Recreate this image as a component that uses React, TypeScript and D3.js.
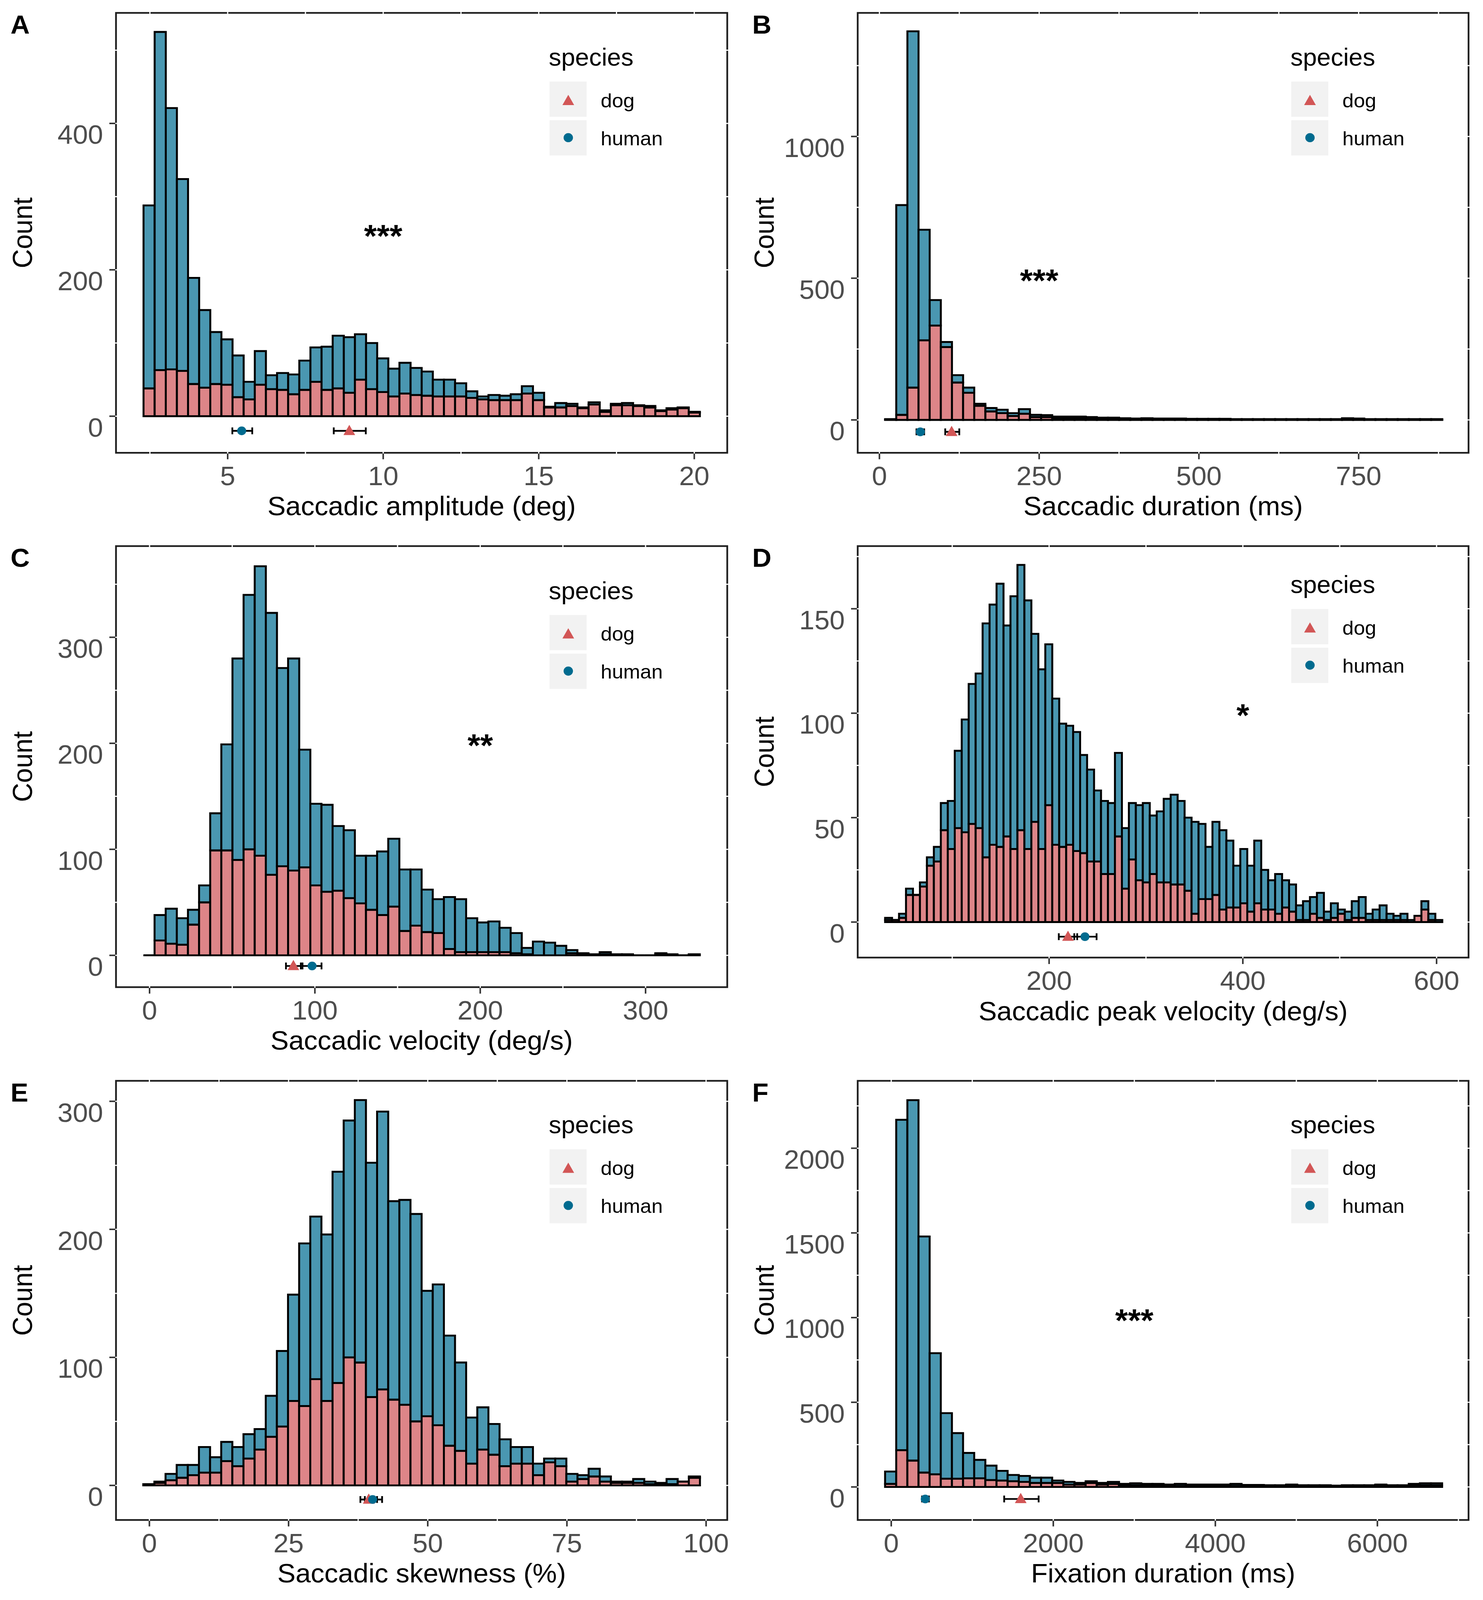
import * as d3 from "d3";

const W = 3797;
const H = 4219;
const FONT = "'Liberation Sans', Arial, Helvetica, sans-serif";
const DOG_FILL = "#dd8588";
const HUMAN_FILL = "#4a97b1";
const DOG_PT = "#d25656";
const HUMAN_PT = "#006b8f";

// A: saccadic amplitude (deg)
const ampStart = 2.295;
const ampWidth = 0.3577;
const ampAll = [288, 525, 421, 324, 189, 145, 115, 105, 83, 47, 89, 56, 59, 57, 76, 94, 95, 110, 108, 112, 100, 79, 65, 73, 66, 61, 50, 50, 45, 34, 27, 29, 28, 30, 41, 32, 13, 18, 17, 12, 19, 8, 17, 18, 15, 14, 8, 11, 12, 6];
const ampDog = [38, 63, 64, 62, 44, 39, 44, 43, 26, 23, 43, 37, 36, 30, 36, 47, 36, 38, 32, 50, 37, 33, 27, 31, 29, 28, 27, 27, 27, 25, 23, 22, 22, 22, 31, 22, 12, 12, 14, 11, 16, 6, 15, 15, 14, 12, 7, 9, 11, 5];

// B: saccadic duration (ms)
const durStart = 8.9;
const durWidth = 17.44;
const durAll = [3, 758, 1371, 671, 423, 275, 158, 114, 57, 42, 36, 24, 38, 18, 17, 12, 12, 12, 10, 8, 8, 6, 5, 6, 5, 5, 5, 4, 4, 4, 4, 3, 3, 3, 3, 3, 3, 3, 3, 3, 3, 6, 5, 3, 3, 3, 3, 3, 3, 3];
const durDog = [1, 18, 114, 281, 333, 257, 132, 96, 50, 30, 24, 14, 22, 10, 10, 6, 6, 6, 5, 4, 4, 3, 3, 3, 2, 2, 2, 2, 2, 2, 2, 1, 1, 1, 1, 1, 1, 1, 1, 1, 1, 3, 2, 1, 1, 1, 1, 1, 1, 1];

// C: saccadic velocity (deg/s)
const velStart = -3.7;
const velWidth = 6.73;
const velAll = [0, 38, 44, 35, 43, 66, 134, 199, 280, 340, 367, 323, 271, 280, 194, 143, 142, 122, 118, 94, 94, 98, 110, 81, 81, 62, 53, 55, 53, 35, 31, 32, 26, 21, 7, 13, 12, 9, 5, 2, 1, 3, 1, 1, 0, 0, 2, 1, 0, 1];
const velDog = [0, 14, 11, 10, 29, 50, 99, 99, 90, 100, 94, 76, 84, 80, 83, 66, 60, 61, 54, 49, 43, 38, 46, 23, 28, 22, 21, 6, 3, 3, 3, 3, 3, 2, 1, 0, 0, 0, 2, 1, 0, 1, 0, 0, 0, 0, 1, 0, 0, 0];

// D: saccadic peak velocity (deg/s)
const peakStart = 30.7;
const peakWidth = 7.19;
const peakAll = [2, 1, 4, 16, 13, 19, 31, 36, 57, 58, 82, 97, 114, 119, 143, 152, 162, 142, 156, 171, 154, 138, 121, 133, 107, 95, 94, 91, 80, 73, 63, 58, 57, 81, 45, 57, 56, 57, 51, 53, 59, 61, 58, 50, 48, 47, 36, 48, 44, 39, 27, 35, 27, 39, 25, 20, 23, 20, 18, 8, 10, 12, 14, 5, 9, 6, 5, 10, 12, 4, 6, 8, 4, 3, 4, 1, 3, 10, 4, 1];
const peakDog = [1, 1, 2, 13, 13, 17, 27, 29, 44, 35, 45, 43, 47, 45, 31, 37, 36, 41, 35, 44, 35, 48, 35, 56, 37, 36, 37, 34, 33, 29, 29, 23, 23, 41, 16, 30, 20, 19, 23, 19, 19, 18, 18, 15, 4, 11, 11, 13, 6, 7, 7, 9, 5, 9, 6, 6, 4, 7, 5, 1, 1, 4, 2, 1, 2, 4, 1, 2, 2, 1, 1, 1, 1, 1, 1, 0, 3, 6, 1, 0];

// E: saccadic skewness (%)
const skewStart = -1.1;
const skewWidth = 2.0;
const skewAll = [1, 3, 9, 16, 16, 30, 22, 34, 30, 40, 44, 70, 105, 149, 189, 210, 196, 245, 285, 301, 252, 292, 222, 223, 212, 152, 157, 117, 96, 53, 61, 48, 36, 30, 30, 17, 21, 21, 9, 8, 13, 7, 3, 3, 5, 3, 2, 5, 3, 7];
const skewDog = [1, 2, 4, 6, 8, 10, 10, 19, 15, 21, 28, 38, 46, 66, 62, 83, 66, 80, 100, 96, 69, 75, 67, 63, 50, 54, 47, 31, 27, 17, 28, 24, 15, 17, 17, 8, 18, 15, 3, 5, 7, 3, 2, 2, 2, 1, 1, 1, 3, 6];

// F: fixation duration (ms)
const fixStart = -76;
const fixWidth = 137.5;
const fixAll = [91, 2168, 2284, 1479, 790, 436, 318, 201, 160, 126, 95, 71, 65, 55, 55, 38, 30, 24, 34, 24, 30, 18, 22, 18, 18, 14, 18, 14, 14, 14, 14, 18, 12, 12, 10, 10, 14, 10, 10, 10, 8, 10, 10, 10, 14, 10, 10, 18, 22, 22];
const fixDog = [18, 217, 156, 85, 75, 49, 49, 51, 51, 41, 38, 34, 30, 24, 24, 24, 14, 14, 24, 14, 18, 10, 10, 8, 8, 6, 6, 6, 6, 6, 6, 6, 5, 5, 4, 4, 6, 4, 4, 4, 4, 4, 4, 4, 6, 4, 4, 8, 10, 10];

// means with error bars: [mean, low, high]
const dogMeans = [[8.91, 8.41, 9.44], [113, 103, 125], [87, 82.5, 91.5], [219.5, 210, 229], [39.4, 37.9, 40.9], [1598, 1394, 1819]];
const humanMeans = [[5.45, 5.15, 5.79], [64, 58, 70], [98.3, 92.5, 104], [237, 226, 249], [40.1, 38.7, 41.8], [420, 380, 465]];
const meanY = [-20, -42, -10, -7, -11, -71];

const letters = ["A", "B", "C", "D", "E", "F"];
const xTitles = [
  "Saccadic amplitude (deg)",
  "Saccadic duration (ms)",
  "Saccadic velocity (deg/s)",
  "Saccadic peak velocity (deg/s)",
  "Saccadic skewness (%)",
  "Fixation duration (ms)",
];
const xTickValues = [[5, 10, 15, 20], [0, 250, 500, 750], [0, 100, 200, 300], [200, 400, 600], [0, 25, 50, 75, 100], [0, 2000, 4000, 6000]];
const yTickValues = [[0, 200, 400], [0, 500, 1000], [0, 100, 200, 300], [0, 50, 100, 150], [0, 100, 200, 300], [0, 500, 1000, 1500, 2000]];
const xDomains = [[1.41, 21.06], [-34, 922], [-20.3, 349.4], [2.4, 633], [-6.0, 103.8], [-414, 7125]];
const yDomains = [[-50, 551], [-116, 1436], [-30, 386], [-17, 180], [-27, 316], [-195, 2398]];

const starLabels = ["***", "***", "**", "*", "", "***"];
const starX = [10, 250, 200, 400, 0, 3000];
const starY = [256, 517, 205, 102.5, 0, 1027];

type Box = { left: number; top: number; right: number; bottom: number };
const boxes: Box[] = [
  { left: 297, top: 34, right: 1862, bottom: 1194 },
  { left: 2196, top: 34, right: 3760, bottom: 1194 },
  { left: 297, top: 1440, right: 1862, bottom: 2603 },
  { left: 2196, top: 1440, right: 3760, bottom: 2525 },
  { left: 297, top: 2850, right: 1862, bottom: 4008 },
  { left: 2196, top: 2850, right: 3760, bottom: 4008 },
];

const bins = [
  { start: ampStart, width: ampWidth, all: ampAll, dog: ampDog },
  { start: durStart, width: durWidth, all: durAll, dog: durDog },
  { start: velStart, width: velWidth, all: velAll, dog: velDog },
  { start: peakStart, width: peakWidth, all: peakAll, dog: peakDog },
  { start: skewStart, width: skewWidth, all: skewAll, dog: skewDog },
  { start: fixStart, width: fixWidth, all: fixAll, dog: fixDog },
];

function gridValues(ticks: number[], domain: number[]) {
  const step = ticks[1] - ticks[0];
  return d3
    .range(ticks[0] - step, ticks[ticks.length - 1] + step * 1.01, step / 2)
    .filter((v) => v > domain[0] && v < domain[1]);
}

function rectPath(x0: number, x1: number, y0: number, y1: number) {
  return `M${x0},${y0}H${x1}V${y1}H${x0}Z`;
}

function triangle(cx: number, cy: number) {
  return `M${cx},${cy - 16}L${cx + 15},${cy + 11}L${cx - 15},${cy + 11}Z`;
}

function Panel({ i }: { i: number }) {
  const b = boxes[i];
  const bin = bins[i];
  const x = d3.scaleLinear().domain(xDomains[i]).range([b.left, b.right]);
  const y = d3.scaleLinear().domain(yDomains[i]).range([b.bottom, b.top]);
  const gx = gridValues(xTickValues[i], xDomains[i]);
  const gy = gridValues(yTickValues[i], yDomains[i]);
  const midY = (b.top + b.bottom) / 2;
  const keyTop = b.top + 0.2 * (b.bottom - b.top) - 51;
  const keyLeft = b.left + 1110;
  const starSize = 84;

  const errorBar = (m: number[], py: number, key: string) => (
    <g key={key} stroke="#000" strokeWidth={4.5}>
      <line x1={x(m[1])} x2={x(m[2])} y1={y(py)} y2={y(py)} />
      <line x1={x(m[1])} x2={x(m[1])} y1={y(py) - 9} y2={y(py) + 9} />
      <line x1={x(m[2])} x2={x(m[2])} y1={y(py) - 9} y2={y(py) + 9} />
    </g>
  );

  return (
    <g>
      {/* bars: dog at the bottom, human stacked on top */}
      <g stroke="#000" strokeWidth={5} strokeLinejoin="miter">
        {bin.all.map((tot, k) => {
          const x0 = x(bin.start + k * bin.width);
          const x1 = x(bin.start + (k + 1) * bin.width);
          return (
            <g key={k}>
              <path d={rectPath(x0, x1, y(0), y(bin.dog[k]))} fill={DOG_FILL} />
              <path d={rectPath(x0, x1, y(bin.dog[k]), y(tot))} fill={HUMAN_FILL} />
            </g>
          );
        })}
      </g>

      {errorBar(humanMeans[i], meanY[i], "he")}
      {errorBar(dogMeans[i], meanY[i], "de")}
      <path d={triangle(x(dogMeans[i][0]), y(meanY[i]))} fill={DOG_PT} />
      <circle cx={x(humanMeans[i][0])} cy={y(meanY[i])} r={11.5} fill={HUMAN_PT} />

      {starLabels[i] && (
        <text
          x={x(starX[i])}
          y={y(starY[i]) + 0.57 * starSize}
          textAnchor="middle"
          fontFamily={FONT}
          fontWeight="bold"
          fontSize={starSize}
          fill="#000"
        >
          {starLabels[i]}
        </text>
      )}

      {/* panel border with the white grid breaks */}
      <rect x={b.left} y={b.top} width={b.right - b.left} height={b.bottom - b.top} fill="none" stroke="#1f1f1f" strokeWidth={4.5} />
      <g stroke="#fff" strokeWidth={3}>
        {gx.map((v) => (
          <g key={"gx" + v}>
            <line x1={x(v)} x2={x(v)} y1={b.top - 4} y2={b.top + 4} />
            <line x1={x(v)} x2={x(v)} y1={b.bottom - 4} y2={b.bottom + 4} />
          </g>
        ))}
        {gy.map((v) => (
          <g key={"gy" + v}>
            <line x1={b.left - 4} x2={b.left + 4} y1={y(v)} y2={y(v)} />
            <line x1={b.right - 4} x2={b.right + 4} y1={y(v)} y2={y(v)} />
          </g>
        ))}
      </g>

      {/* axes */}
      <g stroke="#333" strokeWidth={4}>
        {xTickValues[i].map((v) => (
          <line key={"tx" + v} x1={x(v)} x2={x(v)} y1={b.bottom + 2} y2={b.bottom + 17} />
        ))}
        {yTickValues[i].map((v) => (
          <line key={"ty" + v} x1={b.left - 17} x2={b.left - 2} y1={y(v)} y2={y(v)} />
        ))}
      </g>
      <g fontFamily={FONT} fontSize={70} fill="#4d4d4d">
        {xTickValues[i].map((v) => (
          <text key={"lx" + v} x={x(v)} y={b.bottom + 85} textAnchor="middle">
            {v}
          </text>
        ))}
        {yTickValues[i].map((v) => (
          <text key={"ly" + v} x={b.left - 33} y={y(v) + 54} textAnchor="end">
            {v}
          </text>
        ))}
      </g>
      <text x={(b.left + b.right) / 2} y={b.bottom + 165} textAnchor="middle" fontFamily={FONT} fontSize={70} fill="#000">
        {xTitles[i]}
      </text>
      <text
        transform={`translate(${b.left - 239},${midY}) rotate(-90)`}
        textAnchor="middle"
        dominantBaseline="central"
        fontFamily={FONT}
        fontSize={70}
        fill="#000"
      >
        Count
      </text>
      <text x={b.left - 270} y={b.top + 55} fontFamily={FONT} fontWeight="bold" fontSize={68} fill="#000">
        {letters[i]}
      </text>

      {/* legend */}
      <g fontFamily={FONT} fill="#000">
        <text x={keyLeft - 2} y={keyTop - 42} fontSize={64}>
          species
        </text>
        <rect x={keyLeft} y={keyTop} width={95} height={93} fill="#f2f2f2" />
        <rect x={keyLeft} y={keyTop + 102} width={95} height={93} fill="#f2f2f2" />
        <path d={triangle(keyLeft + 48, keyTop + 51)} fill={DOG_PT} />
        <circle cx={keyLeft + 48} cy={keyTop + 148} r={12} fill={HUMAN_PT} />
        <text x={keyLeft + 131} y={keyTop + 68} fontSize={52}>
          dog
        </text>
        <text x={keyLeft + 131} y={keyTop + 168} fontSize={52}>
          human
        </text>
      </g>
    </g>
  );
}

export default function App() {
  // the visible page can be a little shorter than the full figure, so the
  // figure is scaled into the viewport instead of being cut at the bottom
  return (
    <svg
      viewBox={`0 0 ${W} ${H}`}
      preserveAspectRatio="none"
      style={{ position: "fixed", left: 0, top: 0, width: "100vw", height: "100vh", background: "#fff", display: "block" }}
    >
      <rect width={W} height={H} fill="#fff" />
      {letters.map((l, i) => (
        <Panel key={l} i={i} />
      ))}
    </svg>
  );
}
